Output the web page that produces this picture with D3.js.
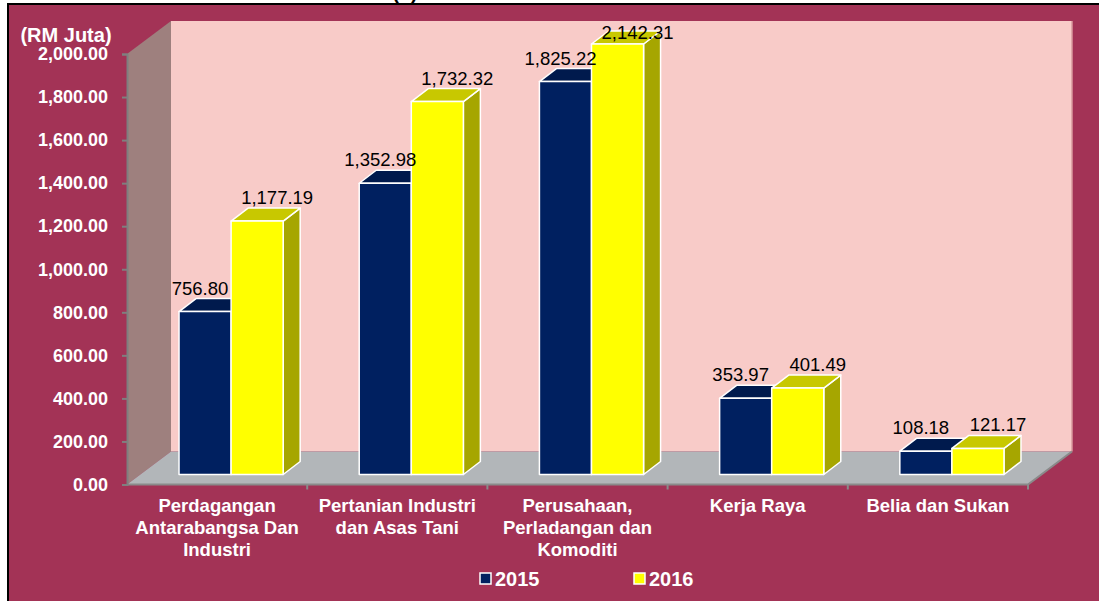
<!DOCTYPE html>
<html>
<head>
<meta charset="utf-8">
<script src="https://cdn.jsdelivr.net/npm/d3@7"></script>
<style>
  html, body { margin: 0; padding: 0; background: #fff; }
  svg { display: block; font-family: Arial, 'Liberation Sans', sans-serif; }
</style>
</head>
<body>
<svg id="chart" width="1099" height="601"></svg>
<script>
// data
const categories = [
  'Perdagangan Antarabangsa Dan Industri',
  'Pertanian Industri dan Asas Tani',
  'Perusahaan, Perladangan dan Komoditi',
  'Kerja Raya',
  'Belia dan Sukan',
];
const categoryLines = [
  ['Perdagangan', 'Antarabangsa Dan', 'Industri'],
  ['Pertanian Industri', 'dan Asas Tani'],
  ['Perusahaan,', 'Perladangan dan', 'Komoditi'],
  ['Kerja Raya'],
  ['Belia dan Sukan'],
];
const series = ['2015', '2016'];
const values2015 = [756.80, 1352.98, 1825.22, 353.97, 108.18];
const values2016 = [1177.19, 1732.32, 2142.31, 401.49, 121.17];
const yTicks = [0, 200, 400, 600, 800, 1000, 1200, 1400, 1600, 1800, 2000];

const faces = {
  '2015': { front: '#002060', top: '#001a4d', side: '#00143c' },
  '2016': { front: '#ffff00', top: '#c8c800', side: '#a6a600' },
};

const svg = d3.select('#chart');

// outer frame
svg.append('rect').attr('x', 8).attr('y', 4).attr('width', 1091).attr('height', 597)
  .attr('fill', '#a33356');
svg.append('path').attr('d', 'M8,601 V4 H1099').attr('fill', 'none')
  .attr('stroke', '#000').attr('stroke-width', 2);
// title, mostly cut off at the top
svg.append('text').attr('x', 405).attr('y', -1).attr('text-anchor', 'middle')
  .style('font-size', '20px').style('font-weight', 'bold').attr('fill', '#000').text('(b)');

const x = d3.scaleBand().domain(categories).range([127, 1028]);
// bars taller than the axis max are cut at 2,000 like in the original
const y = d3.scaleLinear().domain([0, 2000]).range([484.5, 54]).clamp(true);

const depth = { dx: 44, dy: -33 }; // wall depth
const barOff = { dx: 14, dy: -10 }; // bar front plane
const barDepth = { dx: 17, dy: -13 };

const x1 = d3.scaleBand().domain(series)
  .range([x.bandwidth() * 0.211, x.bandwidth() * 0.789]);

const pts = (a) => a.map((p) => p.join(',')).join(' ');

// left wall
svg.append('polygon')
  .attr('points', pts([[127, y(0)], [127, y(2000)], [127 + depth.dx, y(2000) + depth.dy], [127 + depth.dx, y(0) + depth.dy]]))
  .attr('fill', '#9e807e');
// back wall
svg.append('rect')
  .attr('x', 127 + depth.dx).attr('y', y(2000) + depth.dy)
  .attr('width', 1028 - 127).attr('height', y(0) - y(2000))
  .attr('fill', '#f8cbc8');
svg.append('line')
  .attr('x1', 1028 + depth.dx).attr('x2', 1028 + depth.dx)
  .attr('y1', y(2000) + depth.dy).attr('y2', y(0) + depth.dy)
  .attr('stroke', '#d89a9e').attr('stroke-width', 1.5);
// floor
svg.append('polygon')
  .attr('points', pts([[127, y(0)], [127 + depth.dx, y(0) + depth.dy], [1028 + depth.dx, y(0) + depth.dy], [1028, y(0)]]))
  .attr('fill', '#b2b6b9');
svg.append('path')
  .attr('d', `M127,${y(0)} H1028 L${1028 + depth.dx},${y(0) + depth.dy}`)
  .attr('fill', 'none').attr('stroke', '#8a8a8a').attr('stroke-width', 2);

// bars
const rows = categories.map((c, i) => ({ cat: c, vals: [values2015[i], values2016[i]] }));
const barW = x1.bandwidth();
const bars = [];
rows.forEach((r) => {
  series.forEach((s, j) => {
    const x0 = x(r.cat) + x1(s) + barOff.dx;
    const yt = y(r.vals[j]) + barOff.dy;
    const yb = y(0) + barOff.dy;
    bars.push({ s, j, v: r.vals[j], x0, x1: x0 + barW, yt, yb });
  });
});

const g = svg.append('g').attr('stroke', '#fff').attr('stroke-width', 1.5).attr('stroke-linejoin', 'round');
bars.forEach((b) => {
  const c = faces[b.s];
  g.append('polygon')
    .attr('points', pts([[b.x1, b.yt], [b.x1 + barDepth.dx, b.yt + barDepth.dy], [b.x1 + barDepth.dx, b.yb + barDepth.dy], [b.x1, b.yb]]))
    .attr('fill', c.side);
  g.append('polygon')
    .attr('points', pts([[b.x0, b.yt], [b.x1, b.yt], [b.x1 + barDepth.dx, b.yt + barDepth.dy], [b.x0 + barDepth.dx, b.yt + barDepth.dy]]))
    .attr('fill', c.top);
  g.append('rect')
    .attr('x', b.x0).attr('y', b.yt).attr('width', barW).attr('height', b.yb - b.yt)
    .attr('fill', c.front);
});

// value labels
svg.append('g').selectAll('text').data(bars).enter().append('text')
  .attr('x', (d) => (d.x0 + d.x1) / 2 + (d.j === 1 ? 20 : -5))
  .attr('y', (d) => Math.max(39, d.yt - 17))
  .attr('text-anchor', 'middle')
  .style('font-size', '18.5px').attr('fill', '#000')
  .text((d) => d3.format(',.2f')(d.v));

// y axis
const yAxis = svg.append('g').attr('transform', 'translate(127,0)')
  .call(d3.axisLeft(y).tickValues(yTicks).tickFormat(d3.format(',.2f')).tickSizeOuter(0).tickSize(5).tickPadding(14));
yAxis.select('.domain').attr('stroke', '#7f7f7f').attr('stroke-width', 2);
yAxis.selectAll('.tick line').attr('stroke', '#7f7f7f').attr('stroke-width', 2);
yAxis.selectAll('.tick text').attr('fill', '#fff')
  .style('font-size', '18px').style('font-weight', 'bold').style('font-family', 'Arial, Liberation Sans, sans-serif');

svg.append('text').attr('x', 66).attr('y', 42).attr('text-anchor', 'middle')
  .style('font-size', '20px').style('font-weight', 'bold').attr('fill', '#fff').text('(RM Juta)');

// category ticks at band edges
svg.append('g').selectAll('line').data(categories.map((c) => x(c) + x.bandwidth())).enter().append('line')
  .attr('x1', (d) => d).attr('x2', (d) => d).attr('y1', y(0)).attr('y2', y(0) + 5)
  .attr('stroke', '#8a8a8a').attr('stroke-width', 2);

// category labels
const cl = svg.append('g').selectAll('text').data(categories).enter().append('text')
  .attr('text-anchor', 'middle')
  .style('font-size', '18.5px').style('font-weight', 'bold').attr('fill', '#fff');
cl.each(function (c, i) {
  d3.select(this).selectAll('tspan').data(categoryLines[i]).enter().append('tspan')
    .attr('x', x(c) + x.bandwidth() / 2)
    .attr('y', (d, k) => 512 + k * 22)
    .text((d) => d);
});

// legend
const leg = svg.append('g').selectAll('g').data(series).enter().append('g')
  .attr('transform', (d, i) => `translate(${480 + i * 154},573)`);
leg.append('rect').attr('x', 0).attr('y', 0).attr('width', 11).attr('height', 11)
  .attr('fill', (d) => faces[d].front).attr('stroke', '#fff').attr('stroke-width', 1.5);
leg.append('text').attr('x', 15).attr('y', 13)
  .style('font-size', '20px').style('font-weight', 'bold').attr('fill', '#fff').text((d) => d);
</script>
</body>
</html>
